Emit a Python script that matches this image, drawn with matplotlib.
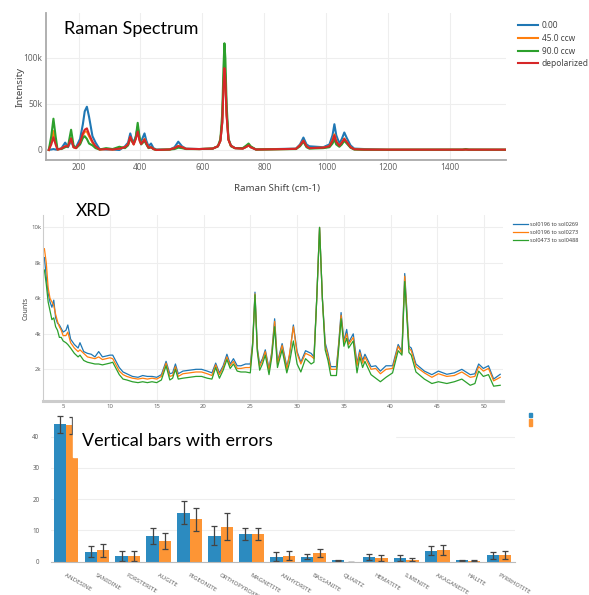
import numpy as np
import matplotlib
matplotlib.use('Agg')
import matplotlib.pyplot as plt
from matplotlib.patches import Rectangle

# ---- Raman data (intensity in thousands) ----
raman_shift = [104, 112, 119, 126, 132, 145, 157, 166, 176, 184,
               192, 205, 214, 220, 227, 234, 245, 255, 268, 289,
               310, 332, 350, 360, 367, 372, 378, 385, 391, 397,
               402, 408, 413, 419, 426, 434, 442, 451, 494, 510,
               522, 534, 547, 590, 633, 650, 658, 664, 668, 671,
               674, 678, 684, 692, 705, 730, 742, 749, 756, 773,
               902, 915, 926, 936, 945, 990, 1010, 1020, 1026, 1032,
               1042, 1050, 1058, 1066, 1078, 1090, 1122, 1200, 1440, 1450,
               1460, 1580]
raman_0 = [0.3, 0.5, 1, 0.5, 0.3, 2, 8, 3, 10, 3,
           3, 12, 28, 42, 47, 36, 15, 8, 1, 0.5,
           0.5, 0, 4, 8, 18, 12, 8, 15, 25, 12,
           9, 14, 18, 10, 4, 7, 2, 0.5, 0.5, 3,
           9, 4, 1.5, 1, 1.5, 4, 10, 30, 70, 93,
           80, 40, 12, 5, 2, 1.5, 3.5, 5.5, 3, 0.5,
           1.5, 6, 13.5, 6, 4, 3, 6, 16, 28, 16,
           7, 12, 19, 13, 5, 1.5, 1, 0.3, 0.3, 0.3,
           0.3, 0.3]
raman_45 = [0, 9, 20.6, 9, 0.5, 1.5, 4, 4, 13, 3,
            2, 7, 16, 20, 20, 15, 8, 3, 0.5, 1,
            0.5, 1.5, 3, 6, 14, 10, 6, 13, 24, 11,
            6.5, 9, 12, 7, 2.5, 3, 1, 0, 0.5, 2,
            4.5, 3, 1.2, 1, 1.5, 4, 10, 31, 72, 93,
            78, 39, 11, 4.5, 2, 1.5, 3.5, 5, 3, 0.5,
            1.2, 5, 10, 4, 2, 2.5, 4, 10.5, 17, 9.5,
            4.5, 8, 12.5, 8.5, 3, 0.8, 0.4, 0.3, 0.3, 0.5,
            0.3, 0.3]
raman_90 = [0, 15, 34, 15, 1, 1, 3, 4, 22, 5,
            2, 6, 13, 15, 12, 7, 5, 2, 0.5, 2,
            1, 3.5, 2, 5, 12.5, 10, 7, 14, 29.5, 14,
            6, 8, 10, 6, 2, 3, 1, 0, 0.5, 1,
            2.5, 2, 1, 1, 1.5, 4, 12, 40, 90, 116,
            100, 50, 12, 4, 2, 2, 5, 7, 4, 0.5,
            1, 4, 9, 3, 1.5, 2, 3, 7, 11.5, 6,
            3.5, 6, 10, 7, 2.5, 0.5, 0.2, 0.2, 0.3, 1,
            0.3, 0.2]
raman_depol = [0, 6, 13.8, 6, 0.5, 1.5, 4, 4, 12.5, 3,
               2, 8, 18, 22, 23.5, 17, 9, 4, 0.5, 1,
               0.5, 1.5, 3, 6, 14.5, 10, 6, 12, 20, 10,
               6.5, 9, 11.5, 7, 2.5, 3, 1, 0, 0.5, 2,
               4.3, 3, 1.2, 1, 1.5, 4, 10, 30, 68, 89,
               76, 38, 11, 4.5, 2, 1.5, 3.5, 5, 3, 0.5,
               1.2, 5, 10, 4, 2, 2.5, 4, 10, 16, 9,
               4.5, 8, 12, 8.5, 3, 0.8, 0.4, 0.3, 0.3, 0.5,
               0.3, 0.3]
raman_labels = ['0.00', '45.0 ccw', '90.0 ccw', 'depolarized']

# ---- XRD data (counts in thousands) ----
xrd_2theta = [3.0, 3.2, 3.4, 3.6, 3.8, 4.0, 4.2, 4.4, 4.6, 4.8,
              5.0, 5.3, 5.5, 5.8, 6.2, 6.6, 6.8, 7.2, 7.6, 8.0,
              8.4, 8.8, 9.2, 9.6, 10.0, 10.3, 10.6, 11.0, 11.4, 11.8,
              12.4, 13.0, 13.5, 14.0, 14.5, 15.0, 15.5, 16.0, 16.4, 16.7,
              17.0, 17.3, 17.8, 18.5, 19.2, 19.8, 20.4, 20.9, 21.3, 21.7,
              22.1, 22.5, 22.85, 23.2, 23.6, 24.0, 24.5, 25.0, 25.25, 25.5,
              25.75, 26.0, 26.3, 26.6, 27.0, 27.3, 27.6, 27.9, 28.4, 28.9,
              29.2, 29.6, 30.0, 30.4, 30.9, 31.5, 31.8, 32.1, 32.4, 32.7,
              33.0, 33.3, 33.6, 34.2, 34.45, 34.7, 35.0, 35.3, 35.5, 36.0,
              36.4, 36.7, 37.0, 37.25, 37.9, 38.4, 38.9, 39.5, 40.2, 40.8,
              41.2, 41.5, 41.95, 42.2, 42.7, 43.6, 44.4, 45.1, 46.0, 46.8,
              47.6, 48.5, 49.0, 49.4, 49.9, 50.45, 51.0, 51.7]
xrd_a = [8.3, 7.2, 6.3, 5.8, 5.5, 5.9, 4.9, 4.6, 4.5, 4.3,
         4.1, 4.2, 4.5, 3.7, 3.4, 3.2, 3.5, 3.0, 2.9, 2.85,
         2.7, 3.0, 2.7, 2.75, 2.8, 2.8, 2.5, 2.1, 1.85, 1.75,
         1.6, 1.55, 1.65, 1.6, 1.6, 1.55, 1.7, 2.45, 1.75, 1.8,
         2.3, 1.75, 1.9, 1.95, 2.0, 2.0, 1.9, 1.8, 2.35, 1.8,
         2.2, 2.85, 2.3, 2.6, 2.2, 2.2, 2.3, 2.3, 3.5, 6.35,
         3.2, 2.3, 2.6, 3.1, 2.05, 3.0, 4.85, 2.4, 3.45, 2.15,
         2.8, 4.5, 3.0, 2.4, 3.05, 2.9, 2.7, 6.0, 10.0, 6.0,
         3.5, 2.9, 2.15, 2.15, 3.5, 5.2, 3.6, 4.25, 3.5, 4.0,
         2.35, 3.1, 2.5, 2.85, 2.15, 2.2, 1.9, 2.2, 2.2, 3.4,
         3.0, 7.4, 3.3, 3.2, 2.3, 1.9, 1.7, 1.9, 1.72, 1.8,
         2.0, 1.7, 1.75, 2.3, 2.05, 2.2, 1.45, 1.72]
xrd_b = [8.8, 8.0, 6.6, 6.0, 5.8, 5.6, 5.1, 4.7, 4.4, 4.2,
         3.9, 3.9, 4.1, 3.5, 3.2, 3.0, 3.1, 2.9, 2.7, 2.65,
         2.6, 2.7, 2.55, 2.6, 2.65, 2.6, 2.3, 1.9, 1.7, 1.6,
         1.5, 1.45, 1.5, 1.45, 1.5, 1.45, 1.6, 2.35, 1.6, 1.65,
         2.15, 1.6, 1.75, 1.8, 1.85, 1.85, 1.75, 1.65, 2.25, 1.7,
         2.1, 2.7, 2.2, 2.45, 2.05, 2.05, 2.1, 2.1, 3.4, 6.25,
         3.1, 2.15, 2.5, 3.0, 1.95, 2.9, 4.7, 2.3, 3.35, 2.0,
         2.9, 4.4, 2.9, 2.3, 2.9, 2.75, 2.6, 6.0, 10.0, 6.0,
         3.35, 2.75, 2.0, 2.0, 3.4, 5.05, 3.5, 4.0, 3.4, 3.8,
         2.2, 2.95, 2.35, 2.7, 2.0, 2.05, 1.75, 2.0, 2.05, 3.3,
         2.9, 7.25, 3.2, 3.05, 2.15, 1.8, 1.55, 1.75, 1.6, 1.65,
         1.85, 1.55, 1.6, 2.15, 1.9, 2.05, 1.35, 1.55]
xrd_c = [7.6, 6.8, 5.8, 5.3, 4.8, 4.9, 4.4, 4.2, 3.8, 3.8,
         3.6, 3.5, 3.4, 3.2, 2.9, 2.7, 2.8, 2.5, 2.4, 2.35,
         2.3, 2.3, 2.25, 2.3, 2.35, 2.4, 2.1, 1.7, 1.45, 1.4,
         1.3, 1.25, 1.3, 1.25, 1.3, 1.25, 1.4, 2.2, 1.4, 1.5,
         2.0, 1.45, 1.5, 1.55, 1.6, 1.6, 1.5, 1.45, 2.1, 1.5,
         1.95, 2.55, 2.05, 2.3, 1.9, 1.85, 1.85, 1.8, 3.3, 6.2,
         3.0, 1.95, 2.3, 2.8, 1.7, 2.7, 4.4, 2.1, 3.1, 1.8,
         2.4, 3.6, 2.3, 1.85, 2.6, 2.3, 2.4, 6.0, 10.0, 6.0,
         3.1, 2.5, 1.65, 1.65, 3.2, 4.85, 3.3, 3.75, 3.2, 3.6,
         1.8, 2.7, 2.1, 2.45, 1.7, 1.5, 1.3, 1.55, 1.8, 3.05,
         2.8, 6.95, 2.95, 2.8, 1.85, 1.45, 1.2, 1.3, 1.2, 1.3,
         1.45, 1.1, 1.2, 1.9, 1.6, 1.7, 1.05, 1.1]
xrd_labels = ['sol0196 to sol0269', 'sol0196 to sol0273', 'sol0473 to sol0488']

# ---- bar data ----
minerals = ['ANDESINE', 'SANIDINE', 'FORSTERITE', 'AUGITE', 'PIGEONITE',
            'ORTHOPYROXENE', 'MAGNETITE', 'ANHYDRITE', 'BASSANITE', 'QUARTZ',
            'HEMATITE', 'ILMENITE', 'AKAGANEITE', 'HALITE', 'PYRRHOTITE']
bar_a = [43.9, 3.2, 1.9, 8.3, 15.7, 8.3, 8.8, 1.6, 1.6, 0.4, 1.5, 1.2, 3.5, 0.4, 2.0]
err_a = [2.8, 1.8, 1.6, 2.5, 3.6, 3.1, 2.0, 1.4, 0.8, 0.3, 1.1, 0.9, 1.4, 0.3, 1.2]
bar_b = [43.6, 3.6, 1.9, 6.6, 13.5, 11.2, 8.8, 1.9, 2.7, 0.0, 1.2, 0.6, 3.7, 0.3, 2.2]
err_b = [2.7, 2.0, 1.6, 2.5, 3.6, 4.2, 2.0, 1.4, 1.3, 0.0, 1.0, 0.5, 1.5, 0.2, 1.3]

W, H = 589, 595
COLORS = ['#1f77b4', '#ff7f0e', '#2ca02c', '#d62728']
BAR_BLUE = '#2c8bc0'
BAR_ORANGE = '#fd9535'
TICK_C = '#666666'
GRID_C = '#eeeeee'
TITLE_FONT = 'Lato'

plt.rcParams['font.family'] = ['Noto Sans', 'DejaVu Sans']


def fx(px):
    return px / W


def fy(py):
    return 1 - py / H


def plain_axes(ax, fs):
    for s in ['top', 'right']:
        ax.spines[s].set_visible(False)
    ax.grid(True, color=GRID_C, lw=0.8)
    ax.set_axisbelow(True)
    ax.tick_params(length=0, labelsize=fs, colors=TICK_C)


fig = plt.figure(figsize=(W / 100, H / 100), dpi=100)

# ---------------- bar chart (bottom layer) ----------------
ax3 = fig.add_axes([fx(50.5), fy(561.7), 464 / W, (561.7 - 405.2) / H], zorder=0)
idx = np.arange(len(minerals))
ekw = dict(ecolor='#444444', elinewidth=0.9, capsize=2.5, capthick=0.9)
ax3.bar(idx - 0.2, bar_a, 0.4, color=BAR_BLUE, yerr=err_a, error_kw=ekw)
ax3.bar(idx + 0.2, bar_b, 0.4, color=BAR_ORANGE, yerr=err_b, error_kw=ekw)
ax3.set_xlim(-0.5, 14.5)
ax3.set_ylim(0, 50)
plain_axes(ax3, 4.5)
ax3.grid(False, axis='x')
ax3.spines['left'].set_visible(False)
ax3.spines['bottom'].set_color('#bbbbbb')
ax3.spines['bottom'].set_linewidth(0.8)
ax3.set_yticks([0, 10, 20, 30, 40])
ax3.tick_params(axis='y', pad=8)
ax3.set_xticks(idx)
ax3.set_xticklabels(minerals, rotation=-30, ha='left', va='top',
                    rotation_mode='anchor', fontsize=4.4)
ax3.tick_params(axis='x', pad=8)

# white boxes: XRD panel background and bar title box
fig.add_artist(Rectangle((0, fy(411)), 1, (411 - 196) / H, transform=fig.transFigure,
                         color='white', zorder=1))
fig.add_artist(Rectangle((fx(72.5), fy(456.7)), (395 - 72.5) / W, (456.7 - 404) / H,
                         transform=fig.transFigure, color='white', zorder=1))
# clipped legend swatches of the bar chart
fig.add_artist(Rectangle((fx(529), fy(417)), 2.5 / W, 4 / H, transform=fig.transFigure,
                         color=BAR_BLUE, zorder=2))
fig.add_artist(Rectangle((fx(529), fy(426)), 3 / W, 7 / H, transform=fig.transFigure,
                         color=BAR_ORANGE, zorder=2))
fig.text(fx(82), fy(440.7), 'Vertical bars with errors', fontsize=13, family=TITLE_FONT,
         va='center', ha='left', zorder=5)

# ---------------- XRD ----------------
ax2 = fig.add_axes([fx(43), fy(401), 460 / W, (401 - 215) / H], zorder=2)
for ys, c, lab in zip([xrd_a, xrd_b, xrd_c], COLORS, xrd_labels):
    ax2.plot(xrd_2theta, ys, color=c, lw=0.9, label=lab)
ax2.set_xlim(2.85, 52.0)
ax2.set_ylim(0.214, 10.7)
plain_axes(ax2, 4.3)
ax2.spines['left'].set_color('#cccccc')
ax2.spines['left'].set_linewidth(0.8)
ax2.spines['bottom'].set_color('#cccccc')
ax2.spines['bottom'].set_linewidth(2.2)
ax2.set_xticks(range(5, 55, 5))
ax2.set_yticks([2, 4, 6, 8, 10])
ax2.set_yticklabels(['2k', '4k', '6k', '8k', '10k'])
ax2.tick_params(axis='y', pad=1)
ax2.tick_params(axis='x', pad=2)
fig.text(fx(25.8), fy(308), 'Counts', rotation=90, fontsize=5, color='#444444',
         va='center', ha='center')
fig.text(fx(76), fy(211), 'XRD', fontsize=12.5, family=TITLE_FONT, va='center', ha='left',
         zorder=5)
h2, l2 = ax2.get_legend_handles_labels()
fig.legend(h2, l2, loc='upper left', bbox_to_anchor=(fx(513), fy(221.5)), frameon=False,
           fontsize=4, labelcolor='#444444', handlelength=2.7, handletextpad=0.4,
           labelspacing=0.6, borderpad=0, borderaxespad=0)

# ---------------- Raman ----------------
ax1 = fig.add_axes([fx(46), fy(160), 460 / W, 147 / H], zorder=3)
for ys, c, lab in zip([raman_0, raman_45, raman_90, raman_depol], COLORS, raman_labels):
    ax1.plot(raman_shift, ys, color=c, lw=1.5, label=lab)
ax1.set_xlim(95, 1580)
ax1.set_ylim(-10.9, 148.9)
plain_axes(ax1, 6)
for s in ['left', 'bottom']:
    ax1.spines[s].set_color('#aaaaaa')
    ax1.spines[s].set_linewidth(1.3)
ax1.set_xticks(range(200, 1600, 200))
ax1.set_yticks([0, 50, 100])
ax1.set_yticklabels(['0', '50k', '100k'])
ax1.tick_params(axis='y', pad=2.5)
ax1.tick_params(axis='x', pad=2)
fig.text(fx(20.5), fy(87), 'Intensity', rotation=90, fontsize=7, color='#444444',
         va='center', ha='center')
fig.text(fx(277), fy(189), 'Raman Shift (cm-1)', fontsize=7, color='#444444',
         va='center', ha='center')
fig.text(fx(64), fy(29), 'Raman Spectrum', fontsize=13, family=TITLE_FONT,
         va='center', ha='left', zorder=5)
h1, l1 = ax1.get_legend_handles_labels()
fig.legend(h1, l1, loc='upper left', bbox_to_anchor=(fx(518), fy(21)), frameon=False,
           fontsize=6, labelcolor='#444444', handlelength=2.4, handletextpad=0.48,
           labelspacing=0.45, borderpad=0, borderaxespad=0)

fig.savefig('out.png', dpi=100)
